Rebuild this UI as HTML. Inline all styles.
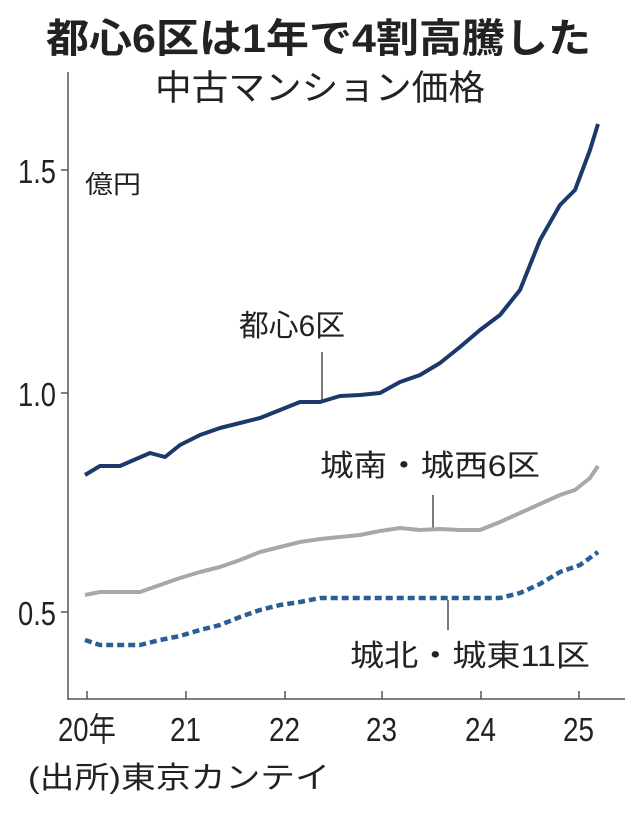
<!DOCTYPE html>
<html><head><meta charset="utf-8"><style>
body{margin:0;background:#fff;}
svg text{font-family:"Liberation Sans","Noto Sans CJK JP",sans-serif;fill:#222;}
</style></head><body>
<svg width="638" height="810" viewBox="0 0 638 810" xmlns="http://www.w3.org/2000/svg">
<text x="46" y="52" font-size="40" font-weight="bold" textLength="545" lengthAdjust="spacingAndGlyphs" fill="#111">都心6区は1年で4割高騰した</text>
<text x="155" y="100" font-size="35" textLength="330" lengthAdjust="spacingAndGlyphs">中古マンション価格</text>
<line x1="68" y1="72" x2="68" y2="700" stroke="#555" stroke-width="1.5"/>
<line x1="68" y1="699" x2="625" y2="699" stroke="#555" stroke-width="1.5"/>
<g stroke="#555" stroke-width="1.5">
<line x1="61" y1="170" x2="68" y2="170"/><line x1="61" y1="393" x2="68" y2="393"/><line x1="61" y1="612" x2="68" y2="612"/>
<line x1="87" y1="691" x2="87" y2="699"/><line x1="186" y1="691" x2="186" y2="699"/><line x1="285" y1="691" x2="285" y2="699"/><line x1="382" y1="691" x2="382" y2="699"/><line x1="481" y1="691" x2="481" y2="699"/><line x1="579" y1="691" x2="579" y2="699"/>
</g>
<g font-size="33">
<text x="18" y="183" textLength="38" lengthAdjust="spacingAndGlyphs">1.5</text>
<text x="18" y="406" textLength="38" lengthAdjust="spacingAndGlyphs">1.0</text>
<text x="18" y="625" textLength="38" lengthAdjust="spacingAndGlyphs">0.5</text>
</g>
<g font-size="33">
<text x="58" y="741" textLength="58" lengthAdjust="spacingAndGlyphs">20年</text>
<text x="170" y="741" textLength="31" lengthAdjust="spacingAndGlyphs">21</text>
<text x="269" y="741" textLength="31" lengthAdjust="spacingAndGlyphs">22</text>
<text x="366" y="741" textLength="31" lengthAdjust="spacingAndGlyphs">23</text>
<text x="465" y="741" textLength="31" lengthAdjust="spacingAndGlyphs">24</text>
<text x="563" y="741" textLength="31" lengthAdjust="spacingAndGlyphs">25</text>
</g>
<text x="85" y="193" font-size="25" textLength="56" lengthAdjust="spacingAndGlyphs">億円</text>
<text x="28" y="788" font-size="30" textLength="302" lengthAdjust="spacingAndGlyphs">(出所)東京カンテイ</text>
<text x="239" y="336" font-size="30" textLength="106" lengthAdjust="spacingAndGlyphs">都心6区</text>
<text x="320" y="476" font-size="30" textLength="220" lengthAdjust="spacingAndGlyphs">城南・城西6区</text>
<text x="350" y="666" font-size="30" textLength="240" lengthAdjust="spacingAndGlyphs">城北・城東11区</text>
<g stroke="#333" stroke-width="1.3">
<line x1="322" y1="352" x2="322" y2="402"/>
<line x1="433" y1="495" x2="433" y2="529"/>
<line x1="448" y1="600" x2="448" y2="630"/>
</g>
<polyline fill="none" stroke="#1b3a6b" stroke-width="4" stroke-linejoin="round" points="85,475 100,466 120,466 150,453 165,457 180,445 200,435 220,428 240,423 260,418 280,410 300,402 320,402 340,396 360,395 380,393 400,382 420,375 440,363 460,347 480,330 500,315 520,290 540,240 560,205 575,190 590,150 598,124"/>
<polyline fill="none" stroke="#a8a8a8" stroke-width="4" stroke-linejoin="round" points="85,595 100,592 140,592 160,585 180,578 200,572 220,567 240,560 260,552 280,547 300,542 320,539 360,535 380,531 400,528 420,530 440,529 460,530 480,530 500,522 520,513 540,504 560,495 575,490 590,478 598,466"/>
<polyline fill="none" stroke="#2b5e96" stroke-width="4.5" stroke-dasharray="7,4" stroke-linejoin="round" points="85,640 100,645 140,645 160,640 180,636 200,630 220,625 240,617 260,610 280,605 300,602 320,598 340,598 500,598 520,593 540,584 560,572 580,565 598,552"/>
</svg>
</body></html>
